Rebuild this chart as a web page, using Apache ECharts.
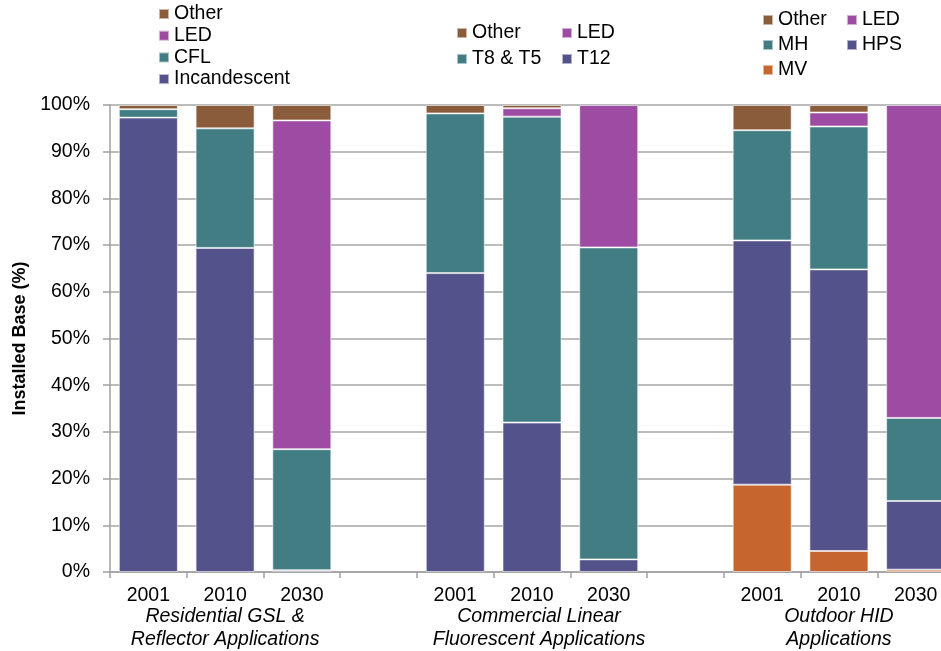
<!DOCTYPE html>
<html>
<head>
<meta charset="utf-8">
<script src="https://cdn.jsdelivr.net/npm/echarts@6/dist/echarts.min.js"></script>
<style>
html,body{margin:0;padding:0;background:#fff;}
#chart{width:941px;height:651px;}
</style>
</head>
<body>
<div id="chart"></div>
<script>
// Categories (11 slots: 3 groups of 3 years with blank gap slots)
const categories = ['2001','2010','2030','','2001','2010','2030','','2001','2010','2030'];
const groupLabels = ['', 'Residential GSL &\nReflector Applications', '', '', '', 'Commercial Linear\nFluorescent Applications', '', '', '', 'Outdoor HID\nApplications', ''];
const yTicks = [0,10,20,30,40,50,60,70,80,90,100];

// Residential GSL & Reflector (2001, 2010, 2030)
const resIncandescent = [97.3, 69.4, 0.4];
const resCFL = [1.8, 25.6, 25.9];
const resLED = [0, 0, 70.4];
const resOther = [0.9, 5.0, 3.3];

// Commercial Linear Fluorescent
const comT12 = [64.0, 32.0, 2.7];
const comT8T5 = [34.2, 65.5, 66.8];
const comLED = [0, 1.8, 30.5];
const comOther = [1.8, 0.7, 0];

// Outdoor HID
const outMV = [18.7, 4.5, 0.5];
const outHPS = [52.3, 60.3, 14.7];
const outMH = [23.6, 30.6, 17.8];
const outLED = [0, 3.0, 67.0];
const outOther = [5.4, 1.6, 0];

const C_BASE = '#53528a', C_TEAL = '#417d82', C_LED = '#9e4ca3', C_OTHER = '#8b5c3b', C_MV = '#c6652d';

function place(vals, offset) {
  const arr = categories.map(() => null);
  vals.forEach((v, i) => { arr[offset + i] = v === 0 ? null : v; });
  return arr;
}
function bar(name, vals, offset, color) {
  return {
    name: name, type: 'bar', stack: 'all', barWidth: 59,
    data: place(vals, offset),
    itemStyle: { color: color, borderColor: 'rgba(255,255,255,0.55)', borderWidth: 1 },
    emphasis: { disabled: true }
  };
}

const FONT = '"Liberation Sans", Arial, sans-serif';
const FS = 19.5;
const legendBase = {
  orient: 'vertical', icon: 'rect', itemWidth: 10, itemHeight: 10, padding: 0,
  textStyle: { fontFamily: FONT, fontSize: FS, color: '#000', lineHeight: 20 }
};

const option = {
  animation: false,
  textStyle: { fontFamily: FONT },
  grid: { left: 110, right: -13, top: 105, bottom: 79, containLabel: false, outerBoundsMode: 'none' },
  legend: [
    Object.assign({}, legendBase, { data: ['Other','LED','CFL','Incandescent'], left: 158, top: 4, itemGap: 1.7 }),
    Object.assign({}, legendBase, { data: ['Other','T8 & T5'], left: 456, top: 23, itemGap: 6 }),
    Object.assign({}, legendBase, { data: ['LED','T12'], left: 561, top: 23, itemGap: 6 }),
    Object.assign({}, legendBase, { data: ['Other','MH','MV'], left: 762, top: 10, itemGap: 5 }),
    Object.assign({}, legendBase, { data: ['LED','HPS'], left: 846, top: 10, itemGap: 5 })
  ],
  xAxis: [
    {
      type: 'category', data: categories, position: 'bottom',
      axisLine: { lineStyle: { color: '#a0a0a0', width: 1.5 } },
      axisTick: { show: true, interval: 0, length: 6, lineStyle: { color: '#a0a0a0', width: 1.5 } },
      axisLabel: { interval: 0, margin: 14, fontSize: FS, color: '#000', fontFamily: FONT }
    },
    {
      type: 'category', data: groupLabels.map((g, i) => i === 5 ? { value: g, textStyle: { padding: [0, 0, 0, 14] } } : g),
      position: 'bottom', offset: 0,
      axisLine: { show: false }, axisTick: { show: false },
      axisLabel: { interval: 0, margin: 33, fontSize: FS, lineHeight: 23, color: '#000', fontStyle: 'italic', fontFamily: FONT }
    }
  ],
  yAxis: {
    type: 'value', min: yTicks[0], max: yTicks[yTicks.length - 1], interval: 10,
    name: 'Installed Base (%)', nameLocation: 'middle', nameGap: 80, nameRotate: 90,
    nameTextStyle: { fontSize: 18, fontWeight: 'bold', color: '#000', fontFamily: FONT },
    axisLine: { show: true, lineStyle: { color: '#a0a0a0', width: 1.5 } },
    axisTick: { show: true, length: 7, lineStyle: { color: '#a0a0a0', width: 1.5 } },
    axisLabel: { formatter: '{value}%', fontSize: FS, color: '#000', margin: 20, fontFamily: FONT },
    splitLine: { show: true, lineStyle: { color: '#a6a6a6', width: 1.5 } }
  },
  series: [
    bar('Incandescent', resIncandescent, 0, C_BASE),
    bar('CFL', resCFL, 0, C_TEAL),
    bar('LED', resLED, 0, C_LED),
    bar('Other', resOther, 0, C_OTHER),
    bar('T12', comT12, 4, C_BASE),
    bar('T8 & T5', comT8T5, 4, C_TEAL),
    bar('LED', comLED, 4, C_LED),
    bar('Other', comOther, 4, C_OTHER),
    bar('MV', outMV, 8, C_MV),
    bar('HPS', outHPS, 8, C_BASE),
    bar('MH', outMH, 8, C_TEAL),
    bar('LED', outLED, 8, C_LED),
    bar('Other', outOther, 8, C_OTHER)
  ]
};

const chart = echarts.init(document.getElementById('chart'), null, { renderer: 'canvas' });
chart.setOption(option);
</script>
</body>
</html>
